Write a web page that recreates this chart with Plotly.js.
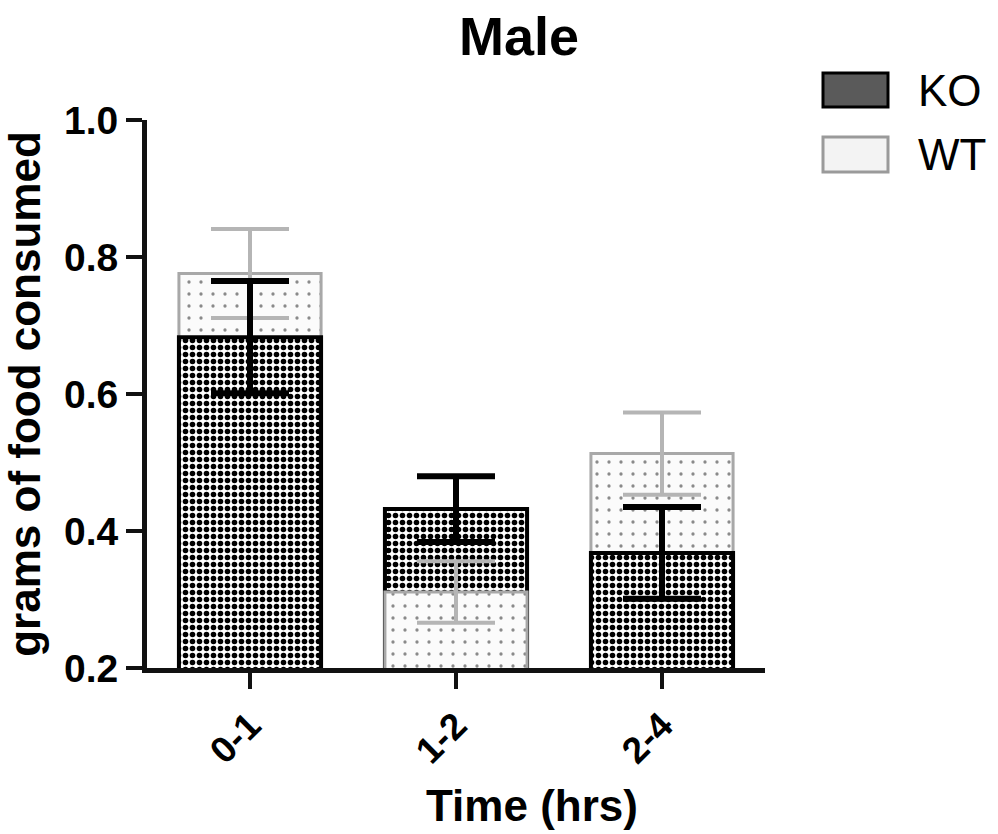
<!DOCTYPE html>
<html>
<head>
<meta charset="utf-8">
<script src="https://cdn.plot.ly/plotly-3.0.1.min.js"></script>
<style>
  html, body { margin: 0; padding: 0; background: #ffffff; }
  #chart { width: 998px; height: 834px; }
</style>
</head>
<body>
<div id="chart"></div>
<script>
// ---- data ----
const categories = ['0-1', '1-2', '2-4'];
const koMean = [0.683, 0.432, 0.368];
const koErr  = [0.082, 0.048, 0.067];
const wtMean = [0.776, 0.311, 0.513];
const wtErr  = [0.065, 0.045, 0.060];
const seriesNames = ['KO', 'WT'];
const chartTitle = 'Male';
const xTitle = 'Time (hrs)';
const yTitle = 'grams of food consumed';

// ---- styling ----
const FONT = 'Liberation Sans, Arial, Helvetica, sans-serif';
const W = 998, H = 834;
const M = { l: 147, r: 233, t: 120, b: 166 };
const PW = W - M.l - M.r, PH = H - M.t - M.b;
const px2x = p => (p - M.l) / PW;          // pixel -> paper x
const py2y = p => (H - M.b - p) / PH;      // pixel -> paper y

const koMarker = {
  color: '#ffffff',
  pattern: { shape: '.', size: 7, solidity: 0.5, fgcolor: '#000000', bgcolor: '#ffffff', fillmode: 'replace' },
  line: { color: '#000000', width: 4 }
};
const wtMarker = {
  color: '#ffffff',
  pattern: { shape: '.', size: 12, solidity: 0.06, fgcolor: '#8a8a8a', bgcolor: '#fbfbfb', fillmode: 'replace' },
  line: { color: '#a8a8a8', width: 3 }
};
const koErrStyle = { color: '#000000', thickness: 6, width: 39 };
const wtErrStyle = { color: '#b5b5b5', thickness: 4, width: 39 };

// the shorter bar of each pair is drawn in front
const wtBack  = wtMean.map((v, i) => v >= koMean[i] ? v : null);
const wtBackE = wtErr.map((e, i) => wtMean[i] >= koMean[i] ? e : null);
const wtFront  = wtMean.map((v, i) => v < koMean[i] ? v : null);
const wtFrontE = wtErr.map((e, i) => wtMean[i] < koMean[i] ? e : null);

const BW = 0.69;
const traces = [
  { type: 'bar', name: seriesNames[1], legendgroup: 'WT', showlegend: false,
    x: categories, y: wtBack, width: BW, marker: wtMarker,
    error_y: Object.assign({ type: 'data', array: wtBackE, visible: true }, wtErrStyle) },
  { type: 'bar', name: seriesNames[0], legendgroup: 'KO', showlegend: false,
    x: categories, y: koMean, width: BW, marker: koMarker,
    error_y: Object.assign({ type: 'data', array: koErr, visible: true }, koErrStyle) },
  { type: 'bar', name: seriesNames[1], legendgroup: 'WT', showlegend: false,
    x: categories, y: wtFront, width: BW, marker: wtMarker,
    error_y: Object.assign({ type: 'data', array: wtFrontE, visible: true }, wtErrStyle) }
];

// legend drawn by hand (large patches as in the reference)
const legendItems = [
  { label: seriesNames[0], top: 73, bottom: 107, fill: '#5a5a5a', line: '#000000', lw: 3 },
  { label: seriesNames[1], top: 137, bottom: 172, fill: '#f3f3f3', line: '#9a9a9a', lw: 3 }
];
const shapes = legendItems.map(it => ({
  type: 'rect', xref: 'paper', yref: 'paper',
  x0: px2x(823), x1: px2x(888), y0: py2y(it.bottom), y1: py2y(it.top),
  fillcolor: it.fill, line: { color: it.line, width: it.lw }
}));
const annotations = legendItems.map(it => ({
  xref: 'paper', yref: 'paper', x: px2x(916), y: py2y((it.top + it.bottom) / 2),
  xanchor: 'left', yanchor: 'middle', showarrow: false, text: it.label,
  font: { family: FONT, size: 44, color: '#000000' }
}));
annotations.push({
  xref: 'paper', yref: 'paper', x: px2x(532), y: py2y(805),
  xanchor: 'center', yanchor: 'middle', showarrow: false, text: xTitle,
  font: { family: FONT, size: 44, color: '#000000', weight: 'bold' }
});

const layout = {
  width: W, height: H,
  margin: M,
  paper_bgcolor: '#ffffff', plot_bgcolor: '#ffffff',
  barmode: 'overlay',
  showlegend: false,
  title: {
    text: chartTitle, x: px2x(519), xref: 'paper', xanchor: 'center',
    y: 1 - 36 / H, yref: 'container', yanchor: 'middle',
    font: { family: FONT, size: 54, color: '#000000', weight: 'bold' }
  },
  xaxis: {
    type: 'category', range: [-0.5, 2.5],
    showline: true, linecolor: '#111111', linewidth: 5,
    ticks: 'outside', ticklen: 16, tickwidth: 4, tickcolor: '#111111',
    tickangle: -45, showgrid: false, zeroline: false,
    tickfont: { family: FONT, size: 37, color: '#000000', weight: 'bold' }
  },
  yaxis: {
    range: [0.2, 1.0], dtick: 0.2, tick0: 0.2, tickformat: '.1f',
    showline: true, linecolor: '#111111', linewidth: 5,
    ticks: 'outside', ticklen: 16, tickwidth: 4, tickcolor: '#111111',
    showgrid: false, zeroline: false,
    tickfont: { family: FONT, size: 39, color: '#000000', weight: 'bold' },
    title: { text: yTitle, standoff: 20,
      font: { family: FONT, size: 44, color: '#000000', weight: 'bold' } }
  },
  shapes: shapes,
  annotations: annotations
};

Plotly.newPlot('chart', traces, layout, { staticPlot: true, displayModeBar: false });
</script>
</body>
</html>
